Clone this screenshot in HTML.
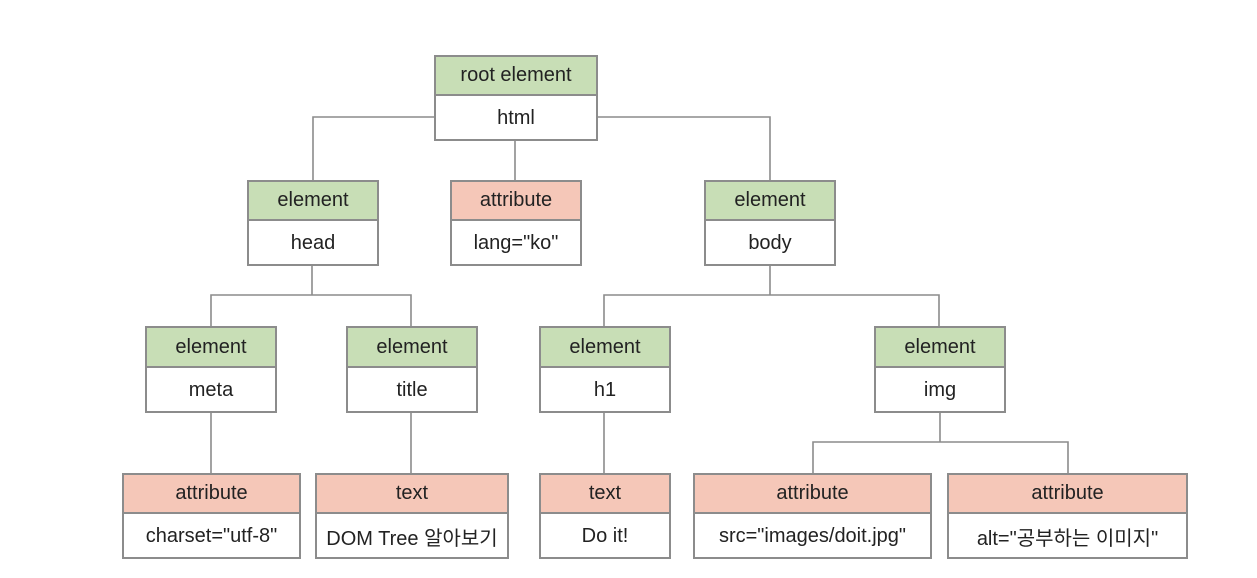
<!DOCTYPE html>
<html><head><meta charset="utf-8"><style>
body{margin:0;width:1257px;height:578px;background:#fff;position:relative;font-family:"Liberation Sans","Noto Sans CJK KR",sans-serif;overflow:hidden}
.b{position:absolute;border:2px solid #8c8c8c;box-sizing:border-box;background:#fff;color:#222;font-size:20px;text-align:center}
.h{border-bottom:2px solid #8c8c8c;display:flex;align-items:center;justify-content:center}
.g{background:#c8deb6}.p{background:#f5c7b8}
.c{display:flex;align-items:center;justify-content:center}
svg{position:absolute;left:0;top:0}
</style></head><body>
<svg width="1257" height="578"><g stroke="#8c8c8c" stroke-width="1.6" fill="none">
<path d="M434 117H313V181M597 117H770V181M515 140V181"/>
<path d="M312 265V295H211V327M312 295H411V327"/>
<path d="M770 265V295H604V327M770 295H939V327"/>
<path d="M211 412V474M411 412V474M604 412V474"/>
<path d="M940 412V442H813V474M940 442H1068V474"/>
</g></svg>
<div class="b" style="left:434px;top:55px;width:164px;height:86px"><div class="h g" style="height:37px">root element</div><div class="c" style="height:45px">html</div></div>
<div class="b" style="left:247px;top:180px;width:132px;height:86px"><div class="h g" style="height:37px">element</div><div class="c" style="height:45px">head</div></div>
<div class="b" style="left:450px;top:180px;width:132px;height:86px"><div class="h p" style="height:37px">attribute</div><div class="c" style="height:45px">lang="ko"</div></div>
<div class="b" style="left:704px;top:180px;width:132px;height:86px"><div class="h g" style="height:37px">element</div><div class="c" style="height:45px">body</div></div>
<div class="b" style="left:145px;top:326px;width:132px;height:87px"><div class="h g" style="height:38px">element</div><div class="c" style="height:45px">meta</div></div>
<div class="b" style="left:346px;top:326px;width:132px;height:87px"><div class="h g" style="height:38px">element</div><div class="c" style="height:45px">title</div></div>
<div class="b" style="left:539px;top:326px;width:132px;height:87px"><div class="h g" style="height:38px">element</div><div class="c" style="height:45px">h1</div></div>
<div class="b" style="left:874px;top:326px;width:132px;height:87px"><div class="h g" style="height:38px">element</div><div class="c" style="height:45px">img</div></div>
<div class="b" style="left:122px;top:473px;width:179px;height:86px"><div class="h p" style="height:37px">attribute</div><div class="c" style="height:45px">charset="utf-8"</div></div>
<div class="b" style="left:315px;top:473px;width:194px;height:86px"><div class="h p" style="height:37px">text</div><div class="c" style="height:45px">DOM Tree 알아보기</div></div>
<div class="b" style="left:539px;top:473px;width:132px;height:86px"><div class="h p" style="height:37px">text</div><div class="c" style="height:45px">Do it!</div></div>
<div class="b" style="left:693px;top:473px;width:239px;height:86px"><div class="h p" style="height:37px">attribute</div><div class="c" style="height:45px">src="images/doit.jpg"</div></div>
<div class="b" style="left:947px;top:473px;width:241px;height:86px"><div class="h p" style="height:37px">attribute</div><div class="c" style="height:45px">alt="공부하는 이미지"</div></div>
</body></html>
